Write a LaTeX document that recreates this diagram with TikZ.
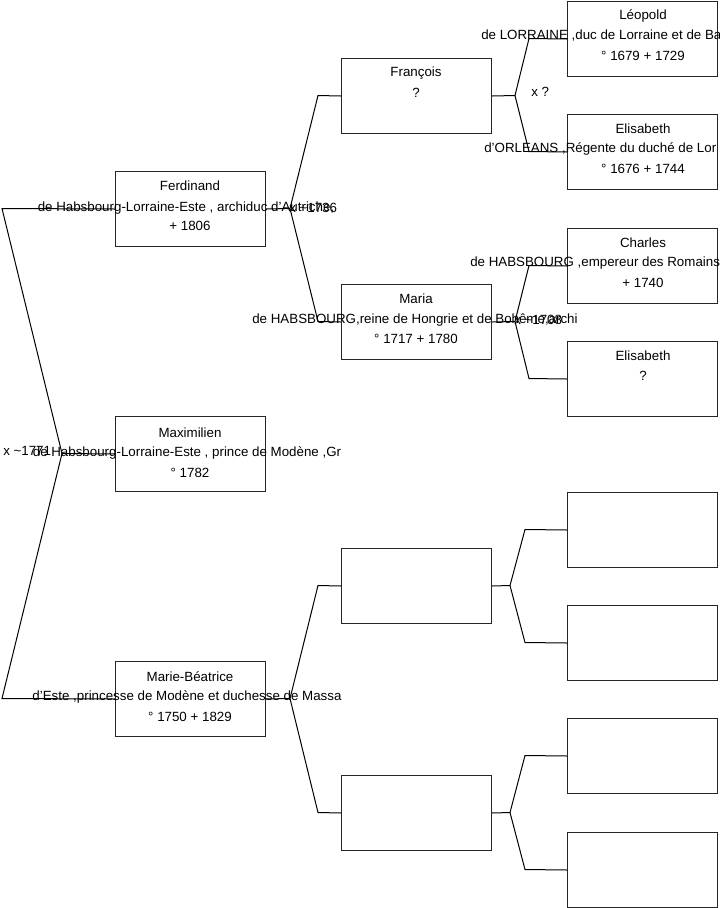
\documentclass[tikz,border=0pt]{standalone}
\usepackage{fontspec}
\setmainfont{Liberation Sans}
\begin{document}
\begin{tikzpicture}[x=0.75pt,y=-0.75pt,
 pbox/.style={draw=black!85,line width=0.75pt,rectangle,minimum width=112.5pt,minimum height=56.25pt,anchor=north west,inner sep=0pt},
 txt/.style={inner sep=0pt,font=\fontsize{10}{11}\selectfont,text=black},
 link/.style={draw=black,line width=0.75pt}]
\useasboundingbox (0,0) rectangle (719,908);
% boxes
\node[pbox] (ferd)  at (115,171) {};
\node[pbox] (maxi)  at (115,416) {};
\node[pbox] (mbea)  at (115,661) {};
\node[pbox] (fran)  at (341,58) {};
\node[pbox] (maria) at (341,284) {};
\node[pbox] (bba)   at (341,548) {};
\node[pbox] (bbb)   at (341,775) {};
\node[pbox] (leop)  at (567,1) {};
\node[pbox] (elisa) at (567,114) {};
\node[pbox] (charl) at (567,228) {};
\node[pbox] (elisb) at (567,341) {};
\node[pbox] (bca)   at (567,492) {};
\node[pbox] (bcb)   at (567,605) {};
\node[pbox] (bcc)   at (567,718) {};
\node[pbox] (bcd)   at (567,832) {};
% texts
\node[txt] (ferd1) at (190,186) {Ferdinand};
\node[txt] (ferd2) at (186,208) {de Habsbourg-Lorraine-Este , archiduc d'Autriche,};
\node[txt] (ferd3) at (190,226) {+ 1806};
\node[txt] (maxi1) at (190,433) {Maximilien};
\node[txt] (maxi2) at (187,453) {de Habsbourg-Lorraine-Este , prince de Modène ,Gr};
\node[txt] (maxi3) at (190,473) {° 1782};
\node[txt] (mbea1) at (190,677) {Marie-Béatrice};
\node[txt] (mbea2) at (187,697) {d'Este ,princesse de Modène et duchesse de Massa};
\node[txt] (mbea3) at (190,717) {° 1750 + 1829};
\node[txt] (fran1) at (416,73) {François};
\node[txt] (fran2) at (416,93) {?};
\node[txt] (maria1) at (416,299) {Maria};
\node[txt] (maria2) at (415,320) {de HABSBOURG,reine de Hongrie et de Bohême,archi};
\node[txt] (maria3) at (416,339) {° 1717 + 1780};
\node[txt] (leop1) at (643,16) {Léopold};
\node[txt,anchor=west] (leop2) at (481,36) {de LORRAINE ,duc de Lorraine et de Ba};
\node[txt] (leop3) at (643,56) {° 1679 + 1729};
\node[txt] (elisa1) at (643,129) {Elisabeth};
\node[txt,anchor=west] (elisa2) at (484,149) {d'ORLEANS ,Régente du duché de Lor};
\node[txt] (elisa3) at (643,169) {° 1676 + 1744};
\node[txt] (charl1) at (643,243) {Charles};
\node[txt,anchor=west] (charl2) at (470,263) {de HABSBOURG ,empereur des Romains};
\node[txt] (charl3) at (643,283) {+ 1740};
\node[txt] (elisb1) at (643,356) {Elisabeth};
\node[txt] (elisb2) at (643,376) {?};
% marriage labels
\node[txt,anchor=west] (m0) at (3,451) {x \char`~1771};
\node[txt,anchor=west] (m1) at (289,208) {x \char`~1736};
\node[txt,anchor=west] (m2) at (514,320) {x \char`~1708};
\node[txt,anchor=west] (m3) at (531,92) {x ?};
% junctions
\coordinate (j0) at (62,453.5);
\coordinate (j0a) at (2,208.5);
\coordinate (j0b) at (2,698.5);
\coordinate (j1) at (290,208.5);
\coordinate (j1a) at (318,95.5);
\coordinate (j1b) at (318,321.5);
\coordinate (j2) at (290,698.5);
\coordinate (j2a) at (318,585.5);
\coordinate (j2b) at (318,812.5);
\coordinate (j3) at (515,95.5);
\coordinate (j3a) at (529,38.5);
\coordinate (j3b) at (529,151.5);
\coordinate (j4) at (515,321.5);
\coordinate (j4a) at (529,265.5);
\coordinate (j4b) at (529,378.5);
\coordinate (j5) at (510,585.5);
\coordinate (j5a) at (525,529.5);
\coordinate (j5b) at (525,642.5);
\coordinate (j6) at (510,812.5);
\coordinate (j6a) at (525,755.5);
\coordinate (j6b) at (525,869.5);
% connectors
\draw[link] (maxi.west) -- (j0);
\draw[link] (ferd.west) -- (j0a) -- (j0) -- (j0b) -- (mbea.west);
\draw[link] (ferd.east) -- (j1);
\draw[link] (fran.west) -- (j1a) -- (j1) -- (j1b) -- (maria.west);
\draw[link] (mbea.east) -- (j2);
\draw[link] (bba.west) -- (j2a) -- (j2) -- (j2b) -- (bbb.west);
\draw[link] (fran.east) -- (j3);
\draw[link] (leop.west) -- (j3a) -- (j3) -- (j3b) -- (elisa.west);
\draw[link] (maria.east) -- (j4);
\draw[link] (charl.west) -- (j4a) -- (j4) -- (j4b) -- (elisb.west);
\draw[link] (bba.east) -- (j5);
\draw[link] (bca.west) -- (j5a) -- (j5) -- (j5b) -- (bcb.west);
\draw[link] (bbb.east) -- (j6);
\draw[link] (bcc.west) -- (j6a) -- (j6) -- (j6b) -- (bcd.west);
\end{tikzpicture}
\end{document}
